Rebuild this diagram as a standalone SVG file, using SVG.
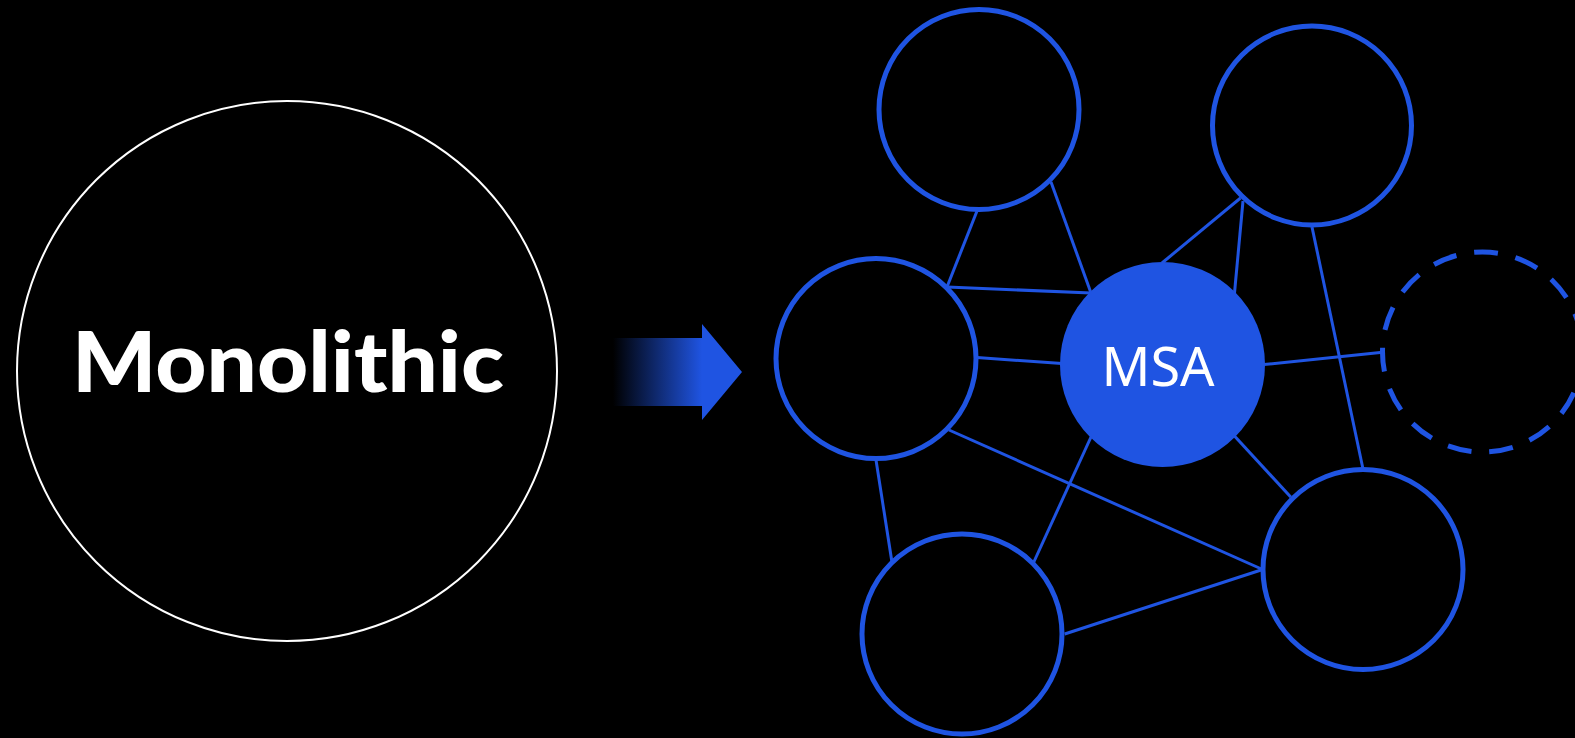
<svg xmlns="http://www.w3.org/2000/svg" width="1575" height="738" viewBox="0 0 1575 738">
<defs>
<linearGradient id="arrowGrad" gradientUnits="userSpaceOnUse" x1="613" y1="0" x2="702" y2="0">
<stop offset="0" stop-color="#000000"/>
<stop offset="1" stop-color="#1f54e2"/>
</linearGradient>
<style>
.svc{fill:#000;stroke:#1f54e2;stroke-width:5}
.link{stroke:#1f54e2;stroke-width:3;fill:none;stroke-linecap:butt}
</style>
</defs>
<rect x="0" y="0" width="1575" height="738" fill="#000"/>
<g id="monolithic">
<circle cx="287" cy="371" r="270" fill="none" stroke="#fff" stroke-width="2"/>
<text x="288" y="392" text-anchor="middle" font-family="Lato, 'Liberation Sans', sans-serif" font-weight="900" font-size="84" fill="#fff" textLength="432" lengthAdjust="spacingAndGlyphs">Monolithic</text>
</g>
<g id="arrow">
<path d="M613,338 L702,338 L702,324 L742,372 L702,420 L702,406 L613,406 Z" fill="url(#arrowGrad)"/>
</g>
<g id="connectors">
<line class="link" x1="977" y1="211" x2="947" y2="287"/>
<line class="link" x1="1051" y1="182" x2="1091" y2="293"/>
<line class="link" x1="947" y1="287" x2="1091" y2="293"/>
<line class="link" x1="977" y1="357.6" x2="1062" y2="363.6"/>
<line class="link" x1="1240.5" y1="198" x2="1162" y2="263"/>
<line class="link" x1="1243" y1="201" x2="1234.5" y2="293"/>
<line class="link" x1="1264" y1="364.6" x2="1385" y2="352"/>
<line class="link" x1="1312" y1="227" x2="1363" y2="469"/>
<line class="link" x1="1234.5" y1="436" x2="1290.7" y2="497"/>
<line class="link" x1="1091" y1="437" x2="1033.6" y2="562.5"/>
<line class="link" x1="949" y1="430" x2="1262.6" y2="569.5"/>
<line class="link" x1="876" y1="460" x2="892" y2="562.5"/>
<line class="link" x1="1064.7" y1="634" x2="1262.6" y2="569.5"/>
</g>
<g id="node-top"><circle class="svc" cx="979" cy="109.5" r="100"/></g>
<g id="node-topright"><circle class="svc" cx="1312" cy="125.5" r="99.5"/></g>
<g id="node-left"><circle class="svc" cx="876" cy="358.6" r="100"/></g>
<g id="node-bottom"><circle class="svc" cx="962" cy="634" r="100"/></g>
<g id="node-bottomright"><circle class="svc" cx="1363" cy="569.5" r="100"/></g>
<g id="node-new"><circle cx="1482.5" cy="352" r="100" fill="none" stroke="#1f54e2" stroke-width="5" stroke-dasharray="24 18"/></g>
<g id="node-msa">
<circle cx="1162.5" cy="364.5" r="102.5" fill="#1f54e2"/>
<text x="1158" y="386" text-anchor="middle" font-family="'Noto Sans', 'DejaVu Sans', sans-serif" font-size="54" fill="#fff">MSA</text>
</g>
</svg>
